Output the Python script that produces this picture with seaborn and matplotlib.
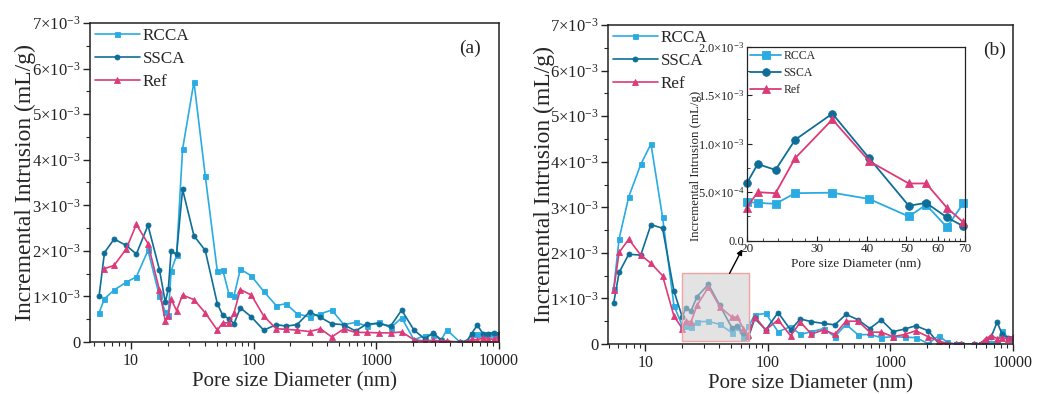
import numpy as np
import pandas as pd
import seaborn as sns
import matplotlib
matplotlib.use("Agg")
import matplotlib.pyplot as plt
from matplotlib.ticker import FuncFormatter, FixedLocator, MultipleLocator, LogLocator, NullFormatter
from matplotlib.patches import Rectangle

# ---------------- data (values in units of 1e-3 mL/g) ----------------
SCALE = 1e-3
pore_a = [5.51, 6.10, 7.31, 9.16, 11.1, 13.8, 17.1, 19.1, 20.2, 21.3,
          23.6, 26.4, 32.7, 40.4, 50.7, 56.0, 63.1, 69.3, 78.1, 96.0,
          121, 153, 184, 226, 286, 351, 434, 545, 678, 840,
          1052, 1310, 1610, 2030, 2480, 2900, 3400, 3750, 4790, 5430,
          5970, 6640, 7430, 8160, 9080, 10000]
rcca_a = [0.64, 0.95, 1.14, 1.31, 1.43, 2.01, 1.01, 0.66, 0.59, 1.56,
          1.90, 4.23, 5.71, 3.65, 1.55, 1.59, 1.05, 1.01, 1.60, 1.45,
          1.11, 0.80, 0.84, 0.62, 0.55, 0.62, 0.70, 0.38, 0.43, 0.35,
          0.44, 0.31, 0.53, 0.05, 0.14, 0.15, 0.05, 0.27, 0.00, 0.00,
          0.17, 0.17, 0.17, 0.17, 0.17, 0.17]
ssca_a = [1.00, 1.96, 2.26, 2.12, 1.93, 2.56, 1.59, 0.87, 1.16, 1.99,
          1.93, 3.35, 2.33, 2.01, 0.84, 0.59, 0.51, 0.40, 0.75, 0.55,
          0.26, 0.38, 0.35, 0.38, 0.66, 0.54, 0.40, 0.38, 0.24, 0.40,
          0.40, 0.35, 0.70, 0.26, 0.07, 0.20, 0.04, 0.00, 0.00, 0.00,
          0.18, 0.37, 0.18, 0.18, 0.20, 0.18]
ref_a = [np.nan, 1.61, 1.68, 2.04, 2.58, 2.16, 1.14, 0.46, 0.56, 0.94,
         0.69, 1.03, 0.93, 0.64, 0.26, 0.42, 0.42, 0.64, 1.15, 1.03,
         0.57, 0.29, 0.28, 0.26, 0.23, 0.29, 0.11, 0.29, 0.21, 0.21,
         0.20, 0.20, 0.22, 0.05, 0.02, 0.04, 0.02, 0.02, 0.00, 0.00,
         0.06, 0.05, 0.09, 0.07, 0.06, 0.11]

pore_b = [5.51, 6.10, 7.31, 9.16, 11.1, 13.8, 17.1, 20.0, 21.3, 23.6,
          26.4, 32.7, 40.4, 50.7, 56.0, 63.1, 69.3, 78.1, 96.0, 121,
          153, 184, 226, 286, 351, 434, 545, 678, 840, 1052,
          1310, 1610, 2030, 2480, 2900, 3400, 3750, 4790, 5430, 5970,
          6640, 7430, 8160, 9080, 10000]
rcca_b = [1.21, 2.31, 3.23, 3.94, 4.39, 2.78, 0.84, 0.40, 0.39, 0.38,
          0.49, 0.495, 0.43, 0.25, 0.37, 0.14, 0.385, 0.64, 0.67, 0.27,
          0.38, 0.21, 0.27, 0.34, 0.16, 0.43, 0.20, 0.21, 0.14, 0.16,
          0.15, 0.14, 0.01, 0.18, 0.04, 0.00, 0.00, 0.00, 0.00, 0.02,
          0.03, 0.05, 0.29, 0.14, 0.12]
ssca_b = [0.90, 1.57, 1.97, 1.95, 2.62, 2.54, 1.16, 0.59, 0.79, 0.73,
          1.04, 1.31, 0.85, 0.36, 0.39, 0.24, 0.15, 0.56, 0.31, 0.69,
          0.31, 0.55, 0.49, 0.45, 0.42, 0.65, 0.53, 0.34, 0.53, 0.27,
          0.33, 0.40, 0.29, 0.01, 0.00, 0.00, 0.00, 0.00, 0.00, 0.07,
          0.16, 0.48, 0.21, 0.14, 0.14]
ref_b = [1.19, 2.01, 2.30, 1.95, 1.77, 1.50, 0.61, 0.34, 0.50, 0.49,
         0.85, 1.25, 0.82, 0.59, 0.59, 0.34, 0.19, 0.60, 0.31, 0.53,
         0.18, 0.48, 0.22, 0.31, 0.21, 0.50, 0.50, 0.26, 0.26, 0.16,
         0.21, 0.29, 0.16, 0.07, 0.01, 0.00, 0.00, 0.00, 0.01, 0.12,
         0.18, 0.12, 0.14, 0.12, 0.16]

series_names = ["RCCA", "SSCA", "Ref"]
colors = {"RCCA": "#2AABE2", "SSCA": "#0E6E98", "Ref": "#DC3A78"}
markers = {"RCCA": "s", "SSCA": "o", "Ref": "^"}
xlabel = "Pore size Diameter (nm)"
ylabel = "Incremental Intrusion (mL/g)"
main_yticks = [0, 1, 2, 3, 4, 5, 6, 7]
main_xticks = [10, 100, 1000, 10000]
inset_xticks = [20, 30, 40, 50, 60, 70]
inset_yticks = [0.0, 0.5, 1.0, 1.5, 2.0]

# ---------------- style ----------------
sns.set_theme(style="ticks")
plt.rcParams["font.family"] = ["Liberation Serif", "DejaVu Serif"]
plt.rcParams["mathtext.fontset"] = "custom"
plt.rcParams["mathtext.rm"] = "Liberation Serif"
plt.rcParams["mathtext.it"] = "Liberation Serif:italic"
plt.rcParams["axes.linewidth"] = 1.1
plt.rcParams["axes.edgecolor"] = "#222222"

fig = plt.figure(figsize=(10.47, 3.94), dpi=100)
ax_a = fig.add_axes([90 / 1047, 52 / 394, 409 / 1047, 319 / 394])
ax_b = fig.add_axes([608 / 1047, 50 / 394, 405 / 1047, 319 / 394])


def make_df(x, ys):
    rows = []
    for name, vals in zip(series_names, ys):
        for xi, yi in zip(x, vals):
            rows.append({"pore": xi, "val": yi * SCALE if yi == yi else np.nan, "series": name})
    return pd.DataFrame(rows)


def main_fmt(v, pos):
    k = int(round(v / SCALE))
    if k == 0:
        return "0"
    return r"$%d{\times}10^{-3}$" % k


def draw_main(ax, df, tag, tagx, msize=3.6):
    for name in series_names:
        d = df[df.series == name].dropna()
        sns.lineplot(data=d, x="pore", y="val", ax=ax, color=colors[name],
                     marker=markers[name], markersize=msize if markers[name] != "^" else msize + 0.6,
                     markeredgewidth=0.6, markeredgecolor=colors[name],
                     linewidth=1.2, label=name, sort=False, estimator=None)
    ax.set_xscale("log")
    ax.set_xlim(4.65 if tag == "(a)" else 4.95, 10000)
    ax.set_ylim(0, 7 * SCALE)
    ax.xaxis.set_major_locator(FixedLocator(main_xticks))
    ax.xaxis.set_major_formatter(FuncFormatter(lambda v, p: "%d" % v))
    ax.xaxis.set_minor_locator(LogLocator(base=10, subs=np.arange(2, 10)))
    ax.xaxis.set_minor_formatter(NullFormatter())
    ax.yaxis.set_major_locator(FixedLocator([t * SCALE for t in main_yticks]))
    ax.yaxis.set_minor_locator(MultipleLocator(0.5 * SCALE))
    ax.yaxis.set_major_formatter(FuncFormatter(main_fmt))
    ax.tick_params(axis="both", which="major", direction="out", length=5, width=1.0,
                   labelsize=11.5, colors="#222222", pad=3)
    ax.tick_params(axis="y", which="major", labelsize=12, pad=2)
    ax.tick_params(axis="both", which="minor", direction="out", length=3, width=0.8)
    ax.set_xlabel(xlabel, fontsize=15, labelpad=2)
    ax.set_ylabel(ylabel, fontsize=17)
    ax.yaxis.set_label_coords(-0.132, 0.5)
    for s in ax.spines.values():
        s.set_visible(True)
    ax.legend(loc="upper left", frameon=False, fontsize=12.3, handlelength=2.6,
              handletextpad=0.2, labelspacing=0.42, borderaxespad=0.05,
              borderpad=0.25, markerscale=1.0)
    ax.text(tagx, 0.92, tag, transform=ax.transAxes, fontsize=14, ha="center", va="center")


df_a = make_df(pore_a, [rcca_a, ssca_a, ref_a])
df_b = make_df(pore_b, [rcca_b, ssca_b, ref_b])
draw_main(ax_a, df_a, "(a)", 0.929)
draw_main(ax_b, df_b, "(b)", 0.955)

# gray zoom box in (b)
ax_b.add_patch(Rectangle((20, 0.07 * SCALE), 50, 1.48 * SCALE,
                         facecolor=(0.80, 0.80, 0.80, 0.55), edgecolor="#F2A3A3",
                         linewidth=1.0, zorder=6))
ax_b.annotate("", xy=(61.7, 2.08 * SCALE), xytext=(48.6, 1.55 * SCALE),
              arrowprops=dict(arrowstyle="-|>", color="black", lw=1.0,
                              mutation_scale=8, shrinkA=0, shrinkB=0), zorder=7)

# ---------------- inset ----------------
ax_in = fig.add_axes([746.7 / 1047, (394 - 240.7) / 394, 218.3 / 1047, 194 / 394])
df_in = df_b[(df_b.pore >= 20) & (df_b.pore <= 70)]
for name in series_names:
    d = df_in[df_in.series == name]
    sns.lineplot(data=d, x="pore", y="val", ax=ax_in, color=colors[name],
                 marker=markers[name], markersize=5.5 if markers[name] != "^" else 6,
                 markeredgewidth=0.6, markeredgecolor=colors[name],
                 linewidth=1.3, label=name, sort=False, estimator=None, clip_on=False)
ax_in.set_xscale("log")
ax_in.set_xlim(20, 70)
ax_in.set_ylim(0, 2.0 * SCALE)
ax_in.xaxis.set_major_locator(FixedLocator(inset_xticks))
ax_in.xaxis.set_major_formatter(FuncFormatter(lambda v, p: "%d" % v))
ax_in.xaxis.set_minor_locator(FixedLocator(list(range(22, 70, 2))))
ax_in.xaxis.set_minor_formatter(NullFormatter())
ax_in.yaxis.set_major_locator(FixedLocator([t * SCALE for t in inset_yticks]))
ax_in.yaxis.set_minor_locator(MultipleLocator(0.25 * SCALE))


def inset_fmt(v, pos):
    t = v / SCALE
    if abs(t) < 1e-9:
        return "0.0"
    if t < 1:
        return r"$%.1f{\times}10^{-4}$" % (t * 10)
    return r"$%.1f{\times}10^{-3}$" % t


ax_in.yaxis.set_major_formatter(FuncFormatter(inset_fmt))
ax_in.tick_params(axis="both", which="major", direction="in", length=3.5, width=0.8,
                  labelsize=9.5, pad=2, colors="#222222")
ax_in.tick_params(axis="both", which="minor", direction="in", length=2, width=0.6)
ax_in.tick_params(axis="y", labelsize=9, pad=1.5)
ax_in.set_xlabel(xlabel, fontsize=9.5, labelpad=2)
ax_in.set_ylabel(ylabel, fontsize=9.3)
ax_in.yaxis.set_label_coords(-0.205, 0.385)
ax_in.legend(loc="upper left", frameon=False, fontsize=8.5, handlelength=2.6,
             handletextpad=0.2, labelspacing=0.4, borderaxespad=0.1, borderpad=0.2)
for s in ax_in.spines.values():
    s.set_linewidth(0.9)

fig.savefig("out.png", dpi=100)
